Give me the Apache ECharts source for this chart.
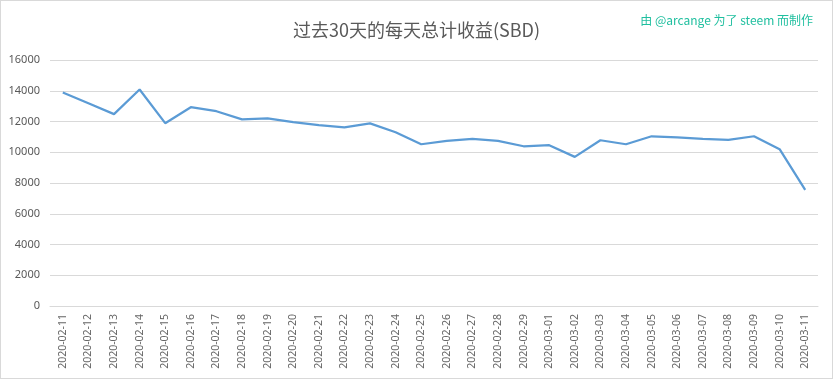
<!DOCTYPE html>
<html>
<head>
<meta charset="utf-8">
<script src="https://cdn.jsdelivr.net/npm/echarts@6/dist/echarts.min.js"></script>
<style>
html,body{margin:0;padding:0;background:#fff;}
#c{width:833px;height:379px;box-sizing:border-box;border:1px solid #d9d9d9;}
</style>
</head>
<body>
<div id="c"></div>
<script>
const categories = ["2020-02-11","2020-02-12","2020-02-13","2020-02-14","2020-02-15","2020-02-16","2020-02-17","2020-02-18","2020-02-19","2020-02-20","2020-02-21","2020-02-22","2020-02-23","2020-02-24","2020-02-25","2020-02-26","2020-02-27","2020-02-28","2020-02-29","2020-03-01","2020-03-02","2020-03-03","2020-03-04","2020-03-05","2020-03-06","2020-03-07","2020-03-08","2020-03-09","2020-03-10","2020-03-11"];
const sbdValues = [13890,13190,12480,14080,11890,12930,12670,12140,12200,11960,11770,11620,11880,11300,10520,10735,10865,10735,10390,10460,9700,10780,10520,11040,10975,10865,10800,11040,10200,7550];
const titleText = "过去30天的每天总计收益(SBD)";
const creditText = "由 @arcange 为了 steem 而制作";

const chart = echarts.init(document.getElementById('c'), null, {renderer:'canvas'});
chart.setOption({
  animation:false,
  backgroundColor:'#fff',
  title:[{
    text:titleText, left:'center', top:15,
    textStyle:{fontFamily:'"Noto Sans CJK SC"', fontSize:18, fontWeight:'normal', color:'#595959'}
  },{
    text:creditText, right:14, top:8,
    textStyle:{fontFamily:'"Noto Sans CJK SC"', fontSize:12, fontWeight:'normal', color:'#1fbf9f'}
  }],
  grid:{left:49, right:14, top:59, bottom:72, containLabel:false},
  xAxis:{
    type:'category', data:categories, boundaryGap:true,
    axisLine:{show:true, lineStyle:{color:'#d9d9d9', width:1}},
    axisTick:{show:false},
    axisLabel:{rotate:90, interval:0, margin:8, fontSize:10.5, color:'#666666', fontFamily:'"Noto Sans"'}
  },
  yAxis:{
    type:'value', min:0, max:16000, interval:2000,
    axisLine:{show:false}, axisTick:{show:false},
    splitLine:{lineStyle:{color:'#d9d9d9', width:1}},
    axisLabel:{fontSize:11, color:'#595959', margin:10, fontFamily:'"Noto Sans"', formatter:function(v){return String(v);}}
  },
  series:[{
    type:'line', data:sbdValues, symbol:'none', smooth:false,
    lineStyle:{color:'#5b9bd5', width:2.25}
  }]
});
</script>
</body>
</html>
